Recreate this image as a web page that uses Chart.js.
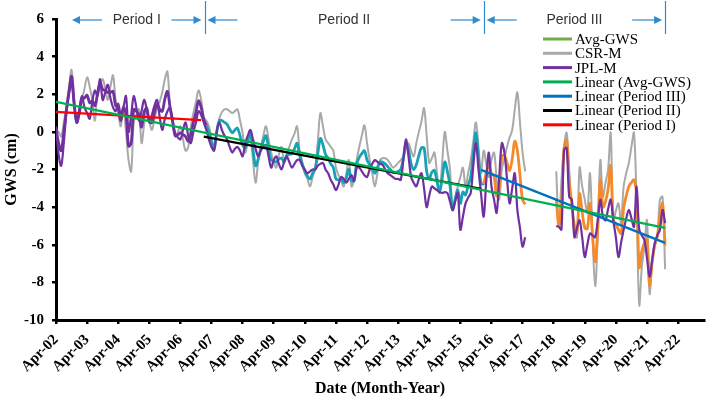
<!DOCTYPE html>
<html>
<head>
<meta charset="utf-8">
<script src="https://cdn.jsdelivr.net/npm/chart.js@4.4.0/dist/chart.umd.min.js"></script>
<style>
  html, body { margin: 0; padding: 0; background: #fff; }
</style>
</head>
<body>
<canvas id="gwsCanvas" width="706" height="400"></canvas>
<script>
// one value per month, index 0 = Apr-02; null = gap between GRACE and GRACE-FO
var csrM = [
  0.1, 0.0, -0.25, 0.5, 1.3, 2.3, 3.3, 1.7, 0.5, 0.9, 1.7, 2.3,
  2.9, 2.4, 1.7, 0.6, 2.1, 2.5, 2.8, 2.3, 1.7, 2.4, 3.0, 1.7,
  1.0, 0.3, 1.3, 0.0, -1.5, -2.1, 0.5, 0.9, 1.2, -0.6, 0.4, 1.3,
  0.6, 0.1, 0.7, 1.2, 1.6, 2.1, 2.8, 3.2, 1.3, 0.5, -0.25, 0.0,
  0.3, -0.4, -1.0, -0.8, 0.3, 1.0, 1.6, 2.2, 1.7, 0.8, 0.6, 0.3,
  -0.3, -0.8, 0.0, 0.7, 1.05, 1.2, 1.2, 1.1, 1.0, 1.1, 1.2, 0.6,
  -0.05, -1.1, -0.6, -0.3, -1.5, -2.7, -1.6, -0.8, -0.2, 0.3, -0.4, -1.1,
  -1.6, -1.9, -1.2, -0.8, -1.6, -1.2, -0.8, -0.4, -0.1, 0.3, -1.0, -1.6,
  -2.2, -2.5, -2.9, -2.4, -1.9, -0.5, 1.0, 0.3, -0.4, -0.6, -0.8, -1.0,
  -1.9, -2.3, -2.6, -2.9, -2.2, -1.5, -2.9, -2.55, -1.5, -0.8, -0.2, 0.35,
  -0.6, -1.5, -2.2, -2.9, -2.2, -1.5, -1.4, -1.4, -1.5, -1.7, -1.9, -1.8,
  -1.65, -1.5, -1.3, -0.9, -0.6, -1.0, -1.3, -0.6, 0.0, 0.55, 1.26, -0.2,
  -1.65, -1.4, -1.1, -2.2, -3.25, -1.6, 0.0, -1.0, -2.0, -4.15, -3.5, -2.9,
  -2.4, -1.9, -2.9, -2.2, -1.5, -0.5, 0.5, -0.8, -2.2, -1.0, -1.7, -2.4,
  -1.5, -1.1, -2.5, -3.6, -2.0, -1.4, -0.8, -0.3, 0.1, 1.2, 2.1, 0.5,
  -1.1, -2.1, null, null, null, null, null, null, null, null, null, null,
  null, -2.1, -5.0, -2.6, -0.8, -0.05, -2.0, -4.0, -4.8, -5.6, -1.9, -2.9,
  -3.6, -4.3, -2.2, -5.5, -8.2, -5.6, -1.5, -3.45, -2.7, -2.0, -0.05, -4.7,
  -4.2, -3.8, -4.85, -2.9, -2.2, -1.65, -0.8, -0.05, -3.8, -9.2, -7.2, -6.1,
  -4.7, -8.6, -7.0, -6.1, -5.6, -3.6, -3.45, -7.3
];

var jplM = [
  0.3, -1.2, -1.8, -0.6, 1.0, 2.0, 2.6, 1.4, 0.5, 1.2, 1.9, 1.3,
  1.0, 0.7, 1.6, 2.2, 1.9, 2.8, 1.7, 2.1, 2.5, 1.8, 1.3, 1.1,
  1.5, 0.9, 1.3, 1.9, 0.0, 0.9, 1.9, 1.3, 0.6, 1.1, 1.7, 1.2,
  0.5, 0.9, 1.4, 1.7, 0.8, 0.1, 0.7, 1.1, 1.3, 0.6, -0.1, -0.3,
  -0.4, 0.1, 0.5, -0.2, -0.6, 0.0, 0.5, 1.1, 0.9, 0.5, 0.1, -0.4,
  -0.8, -1.0, 0.0, 0.5, 0.1, -0.2, -0.4, -0.8, -1.1, -0.9, -0.8, -1.0,
  -1.3, -0.6, -0.2, 0.1, -0.4, -0.9, -1.3, -1.0, -0.8, -0.7, -1.3, -1.9,
  -1.5, -1.3, -1.7, -2.0, -1.6, -1.3, -1.6, -1.9, -1.7, -1.5, -1.5, -1.8,
  -2.0, -2.2, -2.1, -2.0, -2.0, -1.8, -1.7, -1.65, -2.0, -2.2, -2.55, -2.8,
  -3.1, -2.8, -2.4, -2.5, -2.7, -2.5, -2.3, -2.6, -1.9, -1.9, -2.1, -2.3,
  -2.4, -2.0, -1.7, -1.5, -1.6, -1.7, -1.75, -2.0, -2.2, -2.3, -2.4, -2.5,
  -2.5, -2.55, -1.5, -0.4, -1.3, -2.4, -2.7, -2.9, -2.5, -2.2, -3.0, -4.0,
  -3.4, -2.9, -3.0, -3.1, -3.2, -3.25, -3.2, -3.25, -3.7, -4.15, -3.7, -3.25,
  -5.2, -4.5, -3.8, -3.5, -3.25, -1.8, -0.6, -2.0, -3.3, -4.5, -2.6, -1.1,
  -2.9, -3.6, -4.3, -2.4, -0.6, -1.1, -2.5, -3.8, -3.0, -2.2, -4.15, -5.1,
  -6.1, -5.6, null, null, null, null, null, null, null, null, null, null,
  null, -5.0, -5.05, -5.2, -0.95, -0.85, -3.45, -3.6, -5.6, -5.1, -4.7, -5.6,
  -6.65, -6.0, -5.4, -5.5, -5.6, -4.7, -3.6, -4.5, -4.7, -4.1, -3.6, -4.7,
  -5.6, -6.65, -5.9, -5.2, -4.6, -4.15, -4.6, -5.05, -2.9, -5.2, -5.5, -5.75,
  -6.7, -7.7, -6.8, -5.9, -5.5, -5.2, -4.15, -4.85
];

var avgGws = [
  0.2, -0.6, -1.0, 0.0, 1.15, 2.15, 2.95, 1.55, 0.5, 1.05, 1.8, 1.8,
  1.95, 1.55, 1.65, 1.4, 2.0, 2.65, 2.25, 2.2, 2.1, 2.1, 2.15, 1.4,
  1.25, 0.6, 1.3, 0.95, -0.75, -0.6, 1.2, 1.1, 0.9, 0.25, 1.05, 1.25,
  0.55, 0.5, 1.05, 1.45, 1.2, 1.1, 1.75, 2.15, 1.3, 0.55, -0.2, -0.15,
  -0.05, -0.15, -0.25, -0.5, -0.15, 0.5, 1.05, 1.65, 1.3, 0.65, 0.35, -0.05,
  -0.55, -0.9, 0.0, 0.6, 0.6, 0.5, 0.4, 0.15, -0.05, 0.1, 0.2, -0.2,
  -0.7, -0.85, -0.4, -0.1, -0.95, -1.8, -1.45, -0.9, -0.5, -0.2, -0.85, -1.5,
  -1.55, -1.6, -1.45, -1.4, -1.6, -1.25, -1.2, -1.15, -0.9, -0.6, -1.25, -1.7,
  -2.1, -2.35, -2.5, -2.2, -1.95, -1.15, -0.35, -0.7, -1.2, -1.4, -1.7, -1.9,
  -2.5, -2.55, -2.5, -2.7, -2.45, -2.0, -2.6, -2.6, -1.7, -1.35, -1.15, -1.0,
  -1.5, -1.75, -1.95, -2.2, -1.9, -1.6, -1.6, -1.7, -1.85, -2.0, -2.15, -2.15,
  -2.1, -2.0, -1.4, -0.65, -0.95, -1.7, -2.0, -1.75, -1.25, -0.85, -0.85, -2.1,
  -2.5, -2.15, -2.05, -2.65, -3.2, -2.45, -1.6, -2.1, -2.85, -4.15, -3.6, -3.1,
  -3.8, -3.2, -3.35, -2.85, -2.4, -1.15, -0.05, -1.4, -2.75, -2.75, -2.15, -1.75,
  -2.2, -2.35, -3.4, -3.0, -1.3, -1.25, -1.65, -2.05, -1.45, -0.5, -1.0, -2.3,
  -3.6, -3.85, null, null, null, null, null, null, null, null, null, null,
  null, -3.55, -5.0, -3.9, -0.9, -0.45, -2.7, -3.8, -5.2, -5.35, -3.3, -4.25,
  -5.1, -5.15, -3.8, -5.5, -6.9, -5.15, -2.55, -4.0, -3.7, -3.05, -1.8, -4.7,
  -4.9, -5.2, -5.4, -4.05, -3.4, -2.9, -2.7, -2.55, -3.35, -7.2, -6.35, -5.9,
  -5.7, -8.15, -6.9, -6.0, -5.55, -4.4, -3.8, -6.05
];

// trend lines: month index of ends, value at ends
var trendAvgX = [0, 235],  trendAvgY = [1.6, -5.1];
var trendP3X = [164, 235], trendP3Y = [-2.02, -5.9];
var trendP2X = [57, 164],  trendP2Y = [-0.25, -3.03];
var trendP1X = [0, 56],    trendP1Y = [1.06, 0.62];

var tickMonths = [0, 12, 24, 36, 48, 60, 72, 84, 96, 108, 120, 132, 144, 156, 168, 180, 192, 204, 216, 228, 240];
var tickLabels = ['Apr-02', 'Apr-03', 'Apr-04', 'Apr-05', 'Apr-06', 'Apr-07', 'Apr-08', 'Apr-09', 'Apr-10', 'Apr-11',
  'Apr-12', 'Apr-13', 'Apr-14', 'Apr-15', 'Apr-16', 'Apr-17', 'Apr-18', 'Apr-19', 'Apr-20', 'Apr-21', 'Apr-22'];

var periodNames = ['Period I', 'Period II', 'Period III'];
var periodEdges = [0, 57.3, 165, 235];

var SERIF = "'Liberation Serif', 'Times New Roman', serif";
var SANS = "'Liberation Sans', Arial, sans-serif";

function toPoints(values) {
    return values.map(function (v, i) { return { x: i, y: v }; });
}

function toPairs(xs, ys) {
    return xs.map(function (x, i) { return { x: x, y: ys[i] }; });
}

// average is coloured per period
function avgSegmentColor(c) {
    var x = c.p0.parsed.x;
    if (x < periodEdges[1]) return '#7030A0';
    if (x < periodEdges[2]) return '#17A2B5';
    return '#F58A2A';
}

var periodMarks = {
    id: 'periodMarks',
    afterDraw: function (chart) {
        var ctx = chart.ctx;
        var xs = chart.scales.x;
        var ay = 20;
        ctx.save();
        ctx.strokeStyle = '#2E8BD0';
        ctx.fillStyle = '#2E8BD0';
        ctx.lineWidth = 1.2;

        function arrow(from, to) {
            var dir = to > from ? 1 : -1;
            ctx.beginPath();
            ctx.moveTo(from, ay);
            ctx.lineTo(to - dir * 6, ay);
            ctx.stroke();
            ctx.beginPath();
            ctx.moveTo(to, ay);
            ctx.lineTo(to - dir * 8, ay - 4);
            ctx.lineTo(to - dir * 8, ay + 4);
            ctx.closePath();
            ctx.fill();
        }

        for (var i = 1; i < periodEdges.length; i++) {
            var px = Math.round(xs.getPixelForValue(periodEdges[i])) + 0.5;
            ctx.beginPath();
            ctx.moveTo(px, 1);
            ctx.lineTo(px, 34);
            ctx.stroke();
        }

        ctx.font = '14px ' + SANS;
        ctx.textAlign = 'center';
        ctx.textBaseline = 'middle';
        for (var j = 0; j < periodNames.length; j++) {
            var a = xs.getPixelForValue(periodEdges[j]) + (j === 0 ? 16 : 3);
            var b = xs.getPixelForValue(periodEdges[j + 1]) - 3;
            arrow(a + 30, a);
            arrow(b - 30, b);
            ctx.fillStyle = '#333';
            ctx.fillText(periodNames[j], (a + b) / 2, ay);
            ctx.fillStyle = '#2E8BD0';
        }
        ctx.restore();
    }
};

var insideLegend = {
    id: 'insideLegend',
    afterDraw: function (chart) {
        var ctx = chart.ctx;
        var x0 = chart.chartArea.right - 161;
        var y0 = 39;
        ctx.save();
        ctx.font = '15px ' + SERIF;
        ctx.textBaseline = 'middle';
        ctx.textAlign = 'left';
        chart.data.datasets.forEach(function (ds, i) {
            var y = y0 + i * 14.3;
            ctx.strokeStyle = ds.legendColor || ds.borderColor;
            ctx.lineWidth = 3;
            ctx.beginPath();
            ctx.moveTo(x0, y);
            ctx.lineTo(x0 + 29, y);
            ctx.stroke();
            ctx.fillStyle = '#000';
            ctx.fillText(ds.label, x0 + 32, y + 1);
        });
        ctx.restore();
    }
};

var canvas = document.getElementById('gwsCanvas');
var ctx = canvas.getContext('2d');

var dat = {
    datasets: [
        {
            label: 'Avg-GWS',
            data: toPoints(avgGws),
            borderColor: '#17A2B5',
            legendColor: '#70AD47',
            segment: { borderColor: avgSegmentColor },
            borderWidth: 2.8,
            order: 2
        },
        {
            label: 'CSR-M',
            data: toPoints(csrM),
            borderColor: '#A9A9A9',
            borderWidth: 2,
            order: 3
        },
        {
            label: 'JPL-M',
            data: toPoints(jplM),
            borderColor: '#7030A0',
            borderWidth: 2.2,
            order: 1
        },
        {
            label: 'Linear (Avg-GWS)',
            data: toPairs(trendAvgX, trendAvgY),
            borderColor: '#00B050',
            borderWidth: 2.2,
            tension: 0,
            order: 0
        },
        {
            label: 'Linear (Period III)',
            data: toPairs(trendP3X, trendP3Y),
            borderColor: '#0070C0',
            borderWidth: 2.2,
            tension: 0,
            order: 0
        },
        {
            label: 'Linear (Period II)',
            data: toPairs(trendP2X, trendP2Y),
            borderColor: '#000000',
            borderWidth: 2.2,
            tension: 0,
            order: 0
        },
        {
            label: 'Linear (Period I)',
            data: toPairs(trendP1X, trendP1Y),
            borderColor: '#FF0000',
            borderWidth: 2.2,
            tension: 0,
            order: 0
        }
    ]
};

var options = {
    responsive: false,
    animation: false,
    layout: { padding: { top: 19, right: 2, left: 0, bottom: 0 } },
    elements: {
        point: { radius: 0 },
        line: { tension: 0.35, fill: false }
    },
    spanGaps: false,
    plugins: {
        legend: { display: false },
        tooltip: { enabled: false }
    },
    scales: {
        x: {
            type: 'linear',
            min: 0,
            max: 250,
            afterFit: function (s) { s.height = 80; },
            afterBuildTicks: function (s) {
                s.ticks = tickMonths.map(function (m) { return { value: m }; });
            },
            grid: { display: true, drawOnChartArea: false, drawTicks: true, tickLength: 4, color: '#000', lineWidth: 2.5 },
            border: { display: true, color: '#000', width: 3 },
            ticks: {
                autoSkip: false,
                minRotation: 45,
                maxRotation: 45,
                padding: 7,
                color: '#000',
                font: { family: SERIF, size: 15, weight: 'bold' },
                callback: function (value) {
                    var k = tickMonths.indexOf(value);
                    return k >= 0 ? tickLabels[k] : '';
                }
            },
            title: {
                display: true,
                text: 'Date (Month-Year)',
                color: '#000',
                font: { family: SERIF, size: 16, weight: 'bold' },
                padding: { top: 0, bottom: 2 }
            }
        },
        y: {
            min: -10,
            max: 6,
            afterFit: function (s) { s.width = 56; },
            grid: { display: true, drawOnChartArea: false, drawTicks: true, tickLength: 4, color: '#000', lineWidth: 2.5 },
            border: { display: true, color: '#000', width: 3 },
            ticks: {
                stepSize: 2,
                padding: 8,
                color: '#000',
                font: { family: SERIF, size: 15, weight: 'bold' }
            },
            title: {
                display: true,
                text: 'GWS (cm)',
                color: '#000',
                font: { family: SERIF, size: 16, weight: 'bold' },
                padding: { top: 2, bottom: 0 }
            }
        }
    }
};

var gwsChart = new Chart(ctx, {
    type: 'line',
    data: dat,
    options: options,
    plugins: [periodMarks, insideLegend]
});
</script>
</body>
</html>
